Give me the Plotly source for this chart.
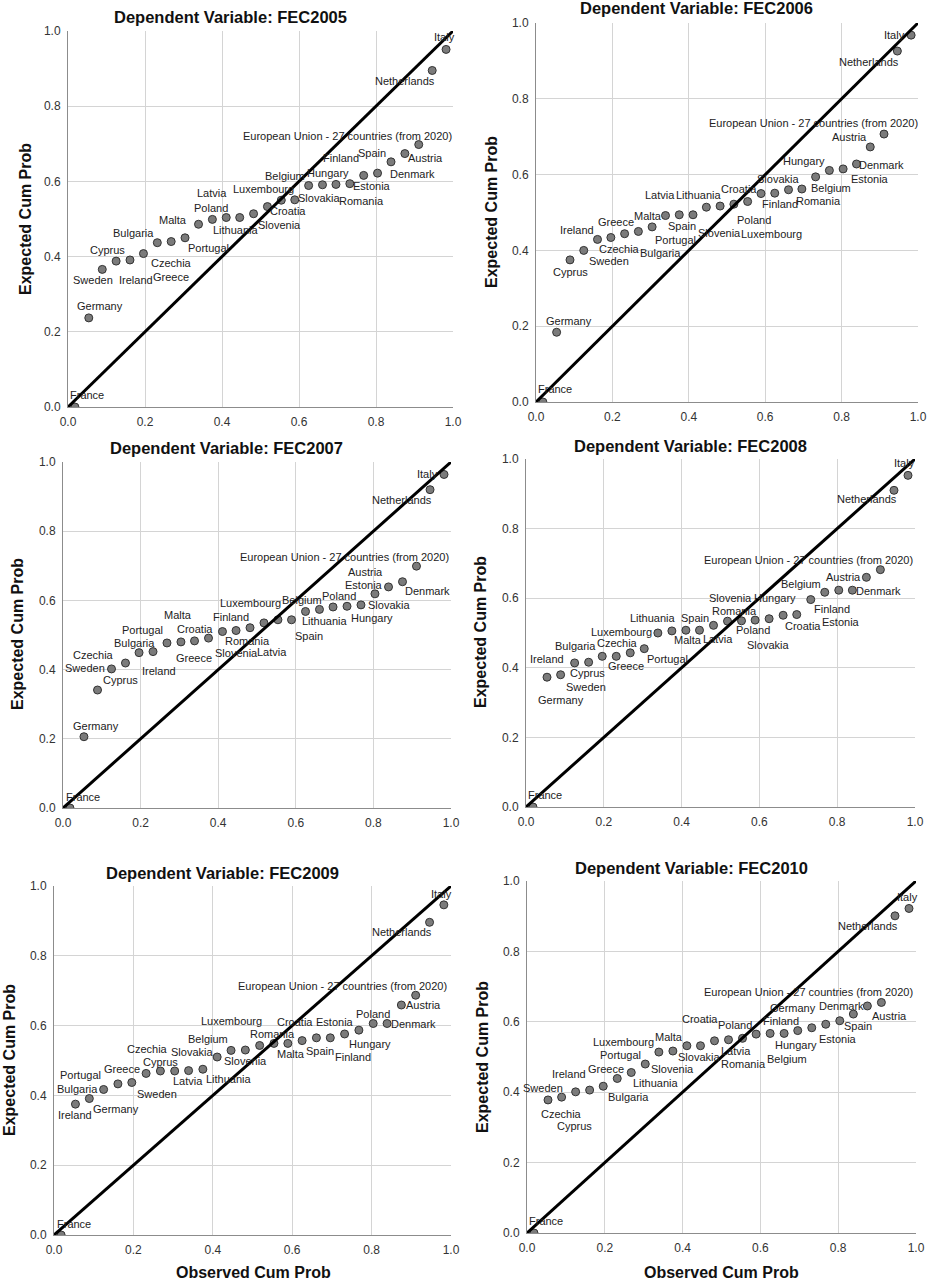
import plotly.graph_objects as go

# ---------------- data ----------------
EU = "European Union - 27 countries (from 2020)"

observed = [0.018, 0.054, 0.089, 0.125, 0.161, 0.196, 0.232, 0.268, 0.304, 0.339,
            0.375, 0.411, 0.446, 0.482, 0.518, 0.554, 0.589, 0.625, 0.661, 0.696,
            0.732, 0.768, 0.804, 0.839, 0.875, 0.911, 0.946, 0.982]

titles = ["FEC2005", "FEC2006", "FEC2007", "FEC2008", "FEC2009", "FEC2010"]

names_2005 = ["France", "Germany", "Sweden", "Cyprus", "Ireland", "Bulgaria", "Czechia", "Greece",
              "Portugal", "Malta", "Poland", "Latvia", "Lithuania", "Slovenia", "Croatia", "Luxembourg",
              "Slovakia", "Belgium", "Hungary", "Romania", "Estonia", "Finland", "Denmark", "Spain",
              "Austria", EU, "Netherlands", "Italy"]
expected_2005 = [0.000, 0.237, 0.366, 0.388, 0.391, 0.408, 0.437, 0.440, 0.450, 0.486,
                 0.499, 0.504, 0.504, 0.514, 0.533, 0.550, 0.551, 0.589, 0.591, 0.592,
                 0.594, 0.616, 0.622, 0.652, 0.674, 0.698, 0.895, 0.951]

names_2006 = ["France", "Germany", "Cyprus", "Sweden", "Ireland", "Czechia", "Greece", "Bulgaria",
              "Portugal", "Malta", "Spain", "Latvia", "Lithuania", "Slovenia", "Croatia", "Poland",
              "Luxembourg", "Slovakia", "Finland", "Romania", "Hungary", "Belgium", "Estonia", "Denmark",
              "Austria", EU, "Netherlands", "Italy"]
expected_2006 = [0.000, 0.184, 0.375, 0.400, 0.429, 0.434, 0.444, 0.450, 0.462, 0.492,
                 0.494, 0.494, 0.514, 0.517, 0.522, 0.529, 0.550, 0.551, 0.560, 0.562,
                 0.594, 0.611, 0.615, 0.628, 0.673, 0.707, 0.926, 0.968]

names_2007 = ["France", "Germany", "Cyprus", "Sweden", "Czechia", "Bulgaria", "Ireland", "Portugal",
              "Malta", "Greece", "Croatia", "Finland", "Slovenia", "Romania", "Latvia", "Luxembourg",
              "Spain", "Belgium", "Lithuania", "Poland", "Hungary", "Slovakia", "Estonia", "Austria",
              "Denmark", EU, "Netherlands", "Italy"]
expected_2007 = [0.000, 0.206, 0.341, 0.402, 0.419, 0.449, 0.452, 0.477, 0.480, 0.483,
                 0.491, 0.510, 0.513, 0.521, 0.535, 0.544, 0.544, 0.568, 0.574, 0.581,
                 0.583, 0.587, 0.619, 0.639, 0.654, 0.699, 0.920, 0.964]

names_2008 = ["France", "Ireland", "Germany", "Sweden", "Cyprus", "Bulgaria", "Czechia", "Greece",
              "Portugal", "Luxembourg", "Lithuania", "Malta", "Spain", "Latvia", "Romania", "Slovenia",
              "Poland", "Slovakia", "Hungary", "Croatia", "Belgium", "Finland", "Estonia", "Denmark",
              "Austria", EU, "Netherlands", "Italy"]
expected_2008 = [0.000, 0.373, 0.380, 0.414, 0.416, 0.433, 0.433, 0.443, 0.455, 0.500,
                 0.506, 0.508, 0.508, 0.522, 0.534, 0.535, 0.537, 0.541, 0.551, 0.553,
                 0.596, 0.617, 0.623, 0.623, 0.660, 0.682, 0.910, 0.953]

names_2009 = ["France", "Ireland", "Germany", "Bulgaria", "Portugal", "Sweden", "Greece", "Cyprus",
              "Czechia", "Latvia", "Lithuania", "Slovakia", "Belgium", "Slovenia", "Luxembourg", "Romania",
              "Malta", "Croatia", "Spain", "Estonia", "Finland", "Hungary", "Poland", "Denmark",
              "Austria", EU, "Netherlands", "Italy"]
expected_2009 = [0.000, 0.375, 0.391, 0.417, 0.433, 0.437, 0.463, 0.470, 0.470, 0.471,
                 0.475, 0.510, 0.529, 0.530, 0.543, 0.549, 0.549, 0.557, 0.565, 0.565,
                 0.576, 0.587, 0.606, 0.606, 0.659, 0.687, 0.896, 0.946]

names_2010 = ["France", "Sweden", "Czechia", "Cyprus", "Ireland", "Bulgaria", "Greece", "Lithuania",
              "Portugal", "Luxembourg", "Malta", "Slovakia", "Slovenia", "Croatia", "Latvia", "Poland",
              "Romania", "Finland", "Belgium", "Hungary", "Germany", "Estonia", "Denmark", "Spain",
              "Austria", EU, "Netherlands", "Italy"]
expected_2010 = [0.000, 0.378, 0.386, 0.401, 0.406, 0.417, 0.439, 0.456, 0.480, 0.514,
                 0.517, 0.532, 0.532, 0.546, 0.549, 0.553, 0.565, 0.567, 0.567, 0.575,
                 0.583, 0.593, 0.603, 0.622, 0.645, 0.655, 0.901, 0.922]

names_all = [names_2005, names_2006, names_2007, names_2008, names_2009, names_2010]
expected_all = [expected_2005, expected_2006, expected_2007, expected_2008, expected_2009, expected_2010]

tick_vals = [0.0, 0.2, 0.4, 0.6, 0.8, 1.0]
tick_text = ["0.0", "0.2", "0.4", "0.6", "0.8", "1.0"]

# ---------------- layout / style (pixel positions) ----------------
W, H = 927, 1280
FONT = "Liberation Sans, Arial, sans-serif"

# plot areas: x0, x1, y0(top), y1(bottom) in px
boxes = [(68, 453, 31, 407), (536, 918, 23, 402),
         (63, 451, 462, 808), (526, 915, 459, 807),
         (54, 451, 886, 1235), (527, 916, 881, 1233)]
title_pos = [(230, 17), (696, 8), (226, 448), (690, 446), (222, 873), (691, 868)]
ytitle_pos = [(25, 219), (491, 212), (17, 634), (480, 632), (9, 1060), (482, 1057)]
xtitle_pos = [(253, 1272), (721, 1272)]

# label offsets (dx, dy) in px, dy positive = downward
label_offsets = [
    [(12, -12), (11, -12), (-9, 11), (-9, -11), (6, 20), (-10, -21), (14, 20), (0, 35),
     (23, 10), (-26, -4), (-1, -11), (-14, -24), (-4, 13), (26, 11), (21, 4), (-18, -11),
     (24, -2), (-24, -10), (6, -12), (26, 17), (22, 2), (-23, -17), (35, 1), (-19, -9),
     (21, 4), (-71, -9), (-27, 11), (-2, -12)],
    [(12, -13), (12, -11), (0, 12), (25, 11), (-21, -9), (9, 11), (-9, -12), (22, 22),
     (23, 13), (-18, 0), (3, 11), (-33, -20), (-7, -12), (-1, 27), (5, -15), (6, 18),
     (10, 40), (3, -14), (-9, 14), (17, 12), (-12, -16), (2, 18), (27, 10), (25, 1),
     (-21, -10), (-71, -11), (-28, 11), (-17, 0)],
    [(13, -11), (12, -11), (23, -10), (-27, -1), (-32, -8), (-5, -10), (6, 19), (-24, -13),
     (-3, -27), (-1, 17), (-14, -9), (9, -15), (0, 22), (-3, 13), (8, 29), (-27, -17),
     (17, 16), (-4, -11), (6, 12), (6, -11), (25, 12), (28, 0), (-11, -9), (-23, -15),
     (25, 9), (-72, -9), (-28, 10), (-17, 0)],
    [(12, -12), (0, -18), (0, 25), (11, 24), (-1, 11), (-27, -10), (1, -13), (-4, 13),
     (23, 10), (-36, -1), (-19, -13), (2, 10), (-4, -12), (4, 14), (7, -10), (-11, -23),
     (-2, 10), (-1, 26), (-8, -17), (6, 11), (-10, -16), (7, 17), (2, 32), (26, 1),
     (-23, 0), (-72, -10), (-27, 9), (-4, -12)],
    [(13, -11), (0, 11), (27, 10), (-26, 0), (-37, -9), (25, 12), (-24, -4), (0, -9),
     (-27, -22), (-1, 10), (26, 10), (-25, -5), (-23, -11), (0, 11), (-28, -24), (-1, -9),
     (3, 11), (-7, -19), (4, 13), (5, -16), (8, 23), (11, 14), (0, -10), (26, 0),
     (22, 0), (-73, -9), (-28, 10), (-2, -11)],
    [(12, -12), (-5, -12), (0, 17), (-1, 34), (-21, -16), (25, 11), (-11, -9), (25, 11),
     (-25, -9), (-35, -10), (-4, -14), (12, 11), (-28, 23), (-15, -22), (7, 11), (-8, -13),
     (-13, 30), (11, -12), (3, 26), (-2, 14), (-19, -20), (12, 15), (2, -15), (5, 12),
     (22, 10), (-73, -10), (-27, 10), (-2, -11)],
]

fig = go.Figure()
layout = dict(width=W, height=H, autosize=False, margin=dict(l=0, r=0, t=0, b=0, pad=0),
              paper_bgcolor="white", plot_bgcolor="white", showlegend=False,
              font=dict(family=FONT, color="#222"))
annotations = []

for i in range(6):
    x0, x1, y0, y1 = boxes[i]
    xa = "xaxis" if i == 0 else f"xaxis{i+1}"
    ya = "yaxis" if i == 0 else f"yaxis{i+1}"
    xr = "x" if i == 0 else f"x{i+1}"
    yr = "y" if i == 0 else f"y{i+1}"
    axis_common = dict(range=[0, 1], tickvals=tick_vals, ticktext=tick_text,
                       showgrid=True, gridcolor="#d4d4d4", gridwidth=1,
                       showline=True, linecolor="#8c8c8c", linewidth=1,
                       zeroline=False, ticks="", ticklabelstandoff=4,
                       automargin=False,
                       tickfont=dict(family=FONT, size=12, color="#333"),
                       fixedrange=True)
    layout[xa] = dict(domain=[x0 / W, x1 / W], anchor=yr, **axis_common)
    layout[ya] = dict(domain=[1 - y1 / H, 1 - y0 / H], anchor=xr, **axis_common)

    fig.add_trace(go.Scatter(
        x=observed, y=expected_all[i], mode="markers", xaxis=xr, yaxis=yr,
        marker=dict(size=8, color="#7b7b7b", line=dict(color="#333333", width=1)),
        hovertext=names_all[i], hoverinfo="text+x+y"))
    fig.add_trace(go.Scatter(
        x=[0, 1], y=[0, 1], mode="lines", xaxis=xr, yaxis=yr,
        line=dict(color="black", width=3), hoverinfo="skip", cliponaxis=False))

    for name, xv, yv, (dx, dy) in zip(names_all[i], observed, expected_all[i], label_offsets[i]):
        annotations.append(dict(x=xv, y=yv, xref=xr, yref=yr, text=name, showarrow=False,
                                xanchor="center", yanchor="middle", xshift=dx, yshift=-dy,
                                font=dict(family=FONT, size=11, color="#222")))

    tx, ty = title_pos[i]
    annotations.append(dict(x=tx / W, y=1 - ty / H, xref="paper", yref="paper",
                            text="<b>Dependent Variable: " + titles[i] + "</b>", showarrow=False,
                            xanchor="center", yanchor="middle",
                            font=dict(family=FONT, size=16.5, color="#111")))
    yx, yy = ytitle_pos[i]
    annotations.append(dict(x=yx / W, y=1 - yy / H, xref="paper", yref="paper",
                            text="<b>Expected Cum Prob</b>", showarrow=False, textangle=-90,
                            xanchor="center", yanchor="middle",
                            font=dict(family=FONT, size=16, color="#111")))

for (xx, xy) in xtitle_pos:
    annotations.append(dict(x=xx / W, y=1 - xy / H, xref="paper", yref="paper",
                            text="<b>Observed Cum Prob</b>", showarrow=False,
                            xanchor="center", yanchor="middle",
                            font=dict(family=FONT, size=16, color="#111")))

layout["annotations"] = annotations
fig.update_layout(**layout)
fig.write_html("out.html", config={"displayModeBar": False},
               post_script="document.body.style.margin='0';document.body.style.overflow='hidden';")
